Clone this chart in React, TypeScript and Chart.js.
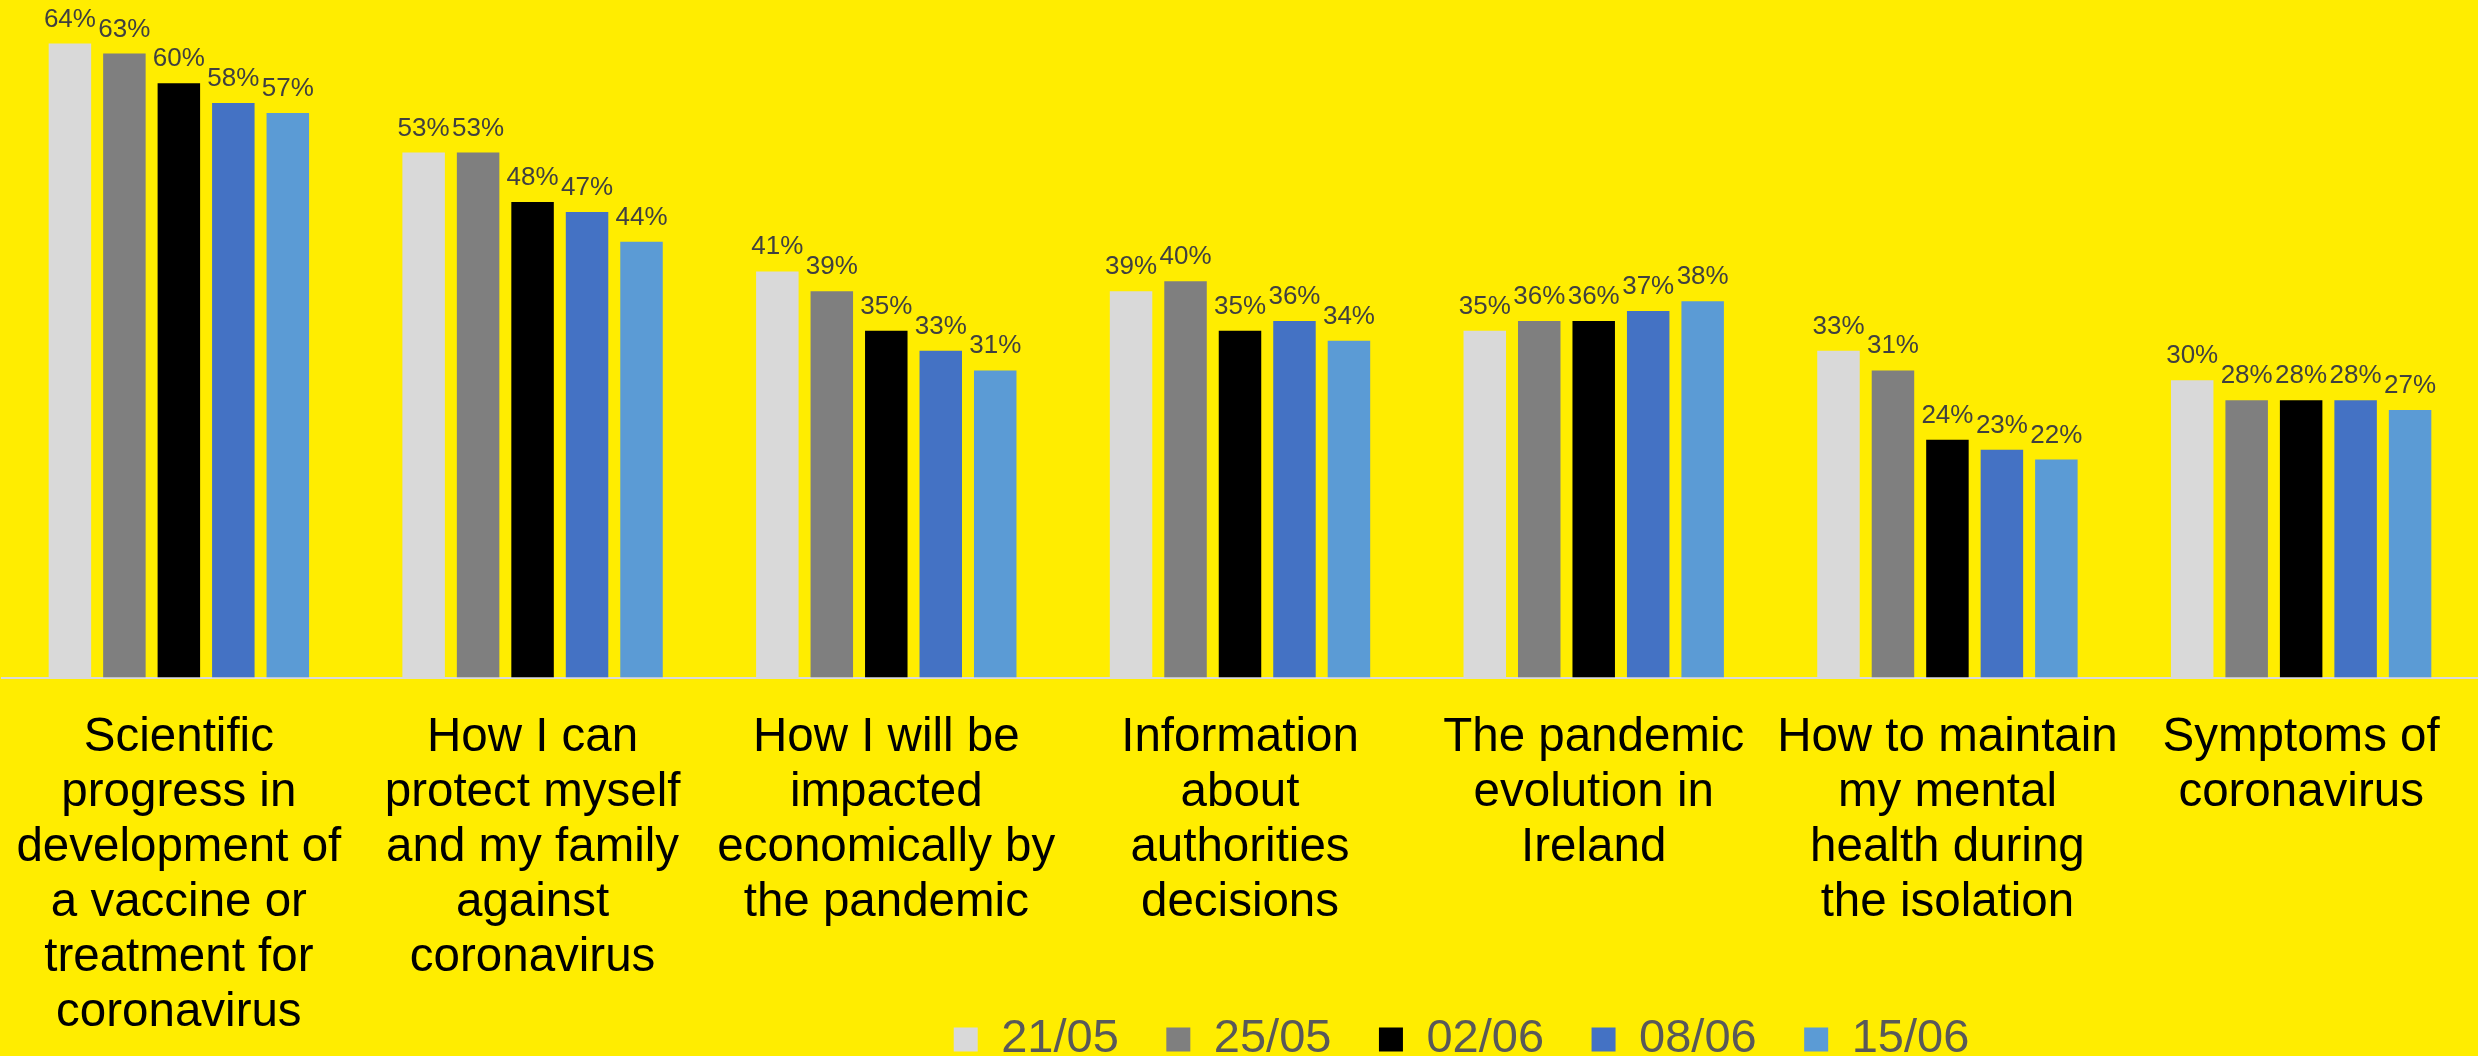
import React, { useEffect, useRef } from "react";
import { Chart, registerables } from "chart.js";

Chart.register(...registerables);

const FONT = "'Liberation Sans', Arial, sans-serif";

const categories: string[][] = [
  ["Scientific", "progress in", "development of", "a vaccine or", "treatment for", "coronavirus"],
  ["How I can", "protect myself", "and my family", "against", "coronavirus"],
  ["How I will be", "impacted", "economically by", "the pandemic"],
  ["Information", "about", "authorities", "decisions"],
  ["The pandemic", "evolution in", "Ireland"],
  ["How to maintain", "my mental", "health during", "the isolation"],
  ["Symptoms of", "coronavirus"],
];

const seriesLabels = ["21/05", "25/05", "02/06", "08/06", "15/06"];
const s2105 = [64, 53, 41, 39, 35, 33, 30];
const s2505 = [63, 53, 39, 40, 36, 31, 28];
const s0206 = [60, 48, 35, 35, 36, 24, 28];
const s0806 = [58, 47, 33, 36, 37, 23, 28];
const s1506 = [57, 44, 31, 34, 38, 22, 27];
const seriesValues = [s2105, s2505, s0206, s0806, s1506];
const seriesColors = ["#d9d9d9", "#7f7f7f", "#000000", "#4472c4", "#5b9bd5"];

const dataLabelPlugin = {
  id: "dataLabels",
  afterDatasetsDraw(chart: any) {
    const ctx = chart.ctx;
    ctx.save();
    ctx.font = `26px ${FONT}`;
    ctx.fillStyle = "#404040";
    ctx.textAlign = "center";
    ctx.textBaseline = "alphabetic";
    chart.data.datasets.forEach((ds: any, i: number) => {
      const meta = chart.getDatasetMeta(i);
      meta.data.forEach((el: any, j: number) => {
        ctx.fillText(`${ds.data[j]}%`, el.x, el.y - 17);
      });
    });
    ctx.restore();
  },
};

const layoutTweakPlugin = {
  id: "layoutTweak",
  afterLayout(chart: any) {
    const l = chart.legend;
    if (l) {
      l.left += 219.5;
      l.right += 219.5;
      l.top += 17;
      l.bottom += 17;
    }
    const x = chart.scales.x;
    if (x) x.bottom = chart.height;
  },
};

export default function App() {
  const ref = useRef<HTMLCanvasElement | null>(null);

  useEffect(() => {
    if (!ref.current) return;
    const chart = new Chart(ref.current, {
      type: "bar",
      data: {
        labels: categories,
        datasets: seriesLabels.map((label, i) => ({
          label,
          data: seriesValues[i],
          backgroundColor: seriesColors[i],
          borderWidth: 0,
          categoryPercentage: 0.77,
          barPercentage: 0.78,
        })),
      },
      options: {
        responsive: false,
        animation: false,
        layout: { padding: { top: 4, left: 2, right: -4, bottom: 0 } },
        plugins: {
          legend: {
            position: "bottom",
            labels: {
              boxWidth: 24,
              boxHeight: 24,
              padding: 47.5,
              color: "#595959",
              font: { size: 47, family: FONT },
            },
          },
          tooltip: { enabled: false },
        },
        scales: {
          x: {
            grid: { display: false, drawTicks: false },
            border: { display: true, color: "#d9d9d9", width: 2 },
            ticks: {
              color: "#000000",
              font: { size: 47.5, family: FONT, lineHeight: 55 / 47.5 },
              padding: 33,
              maxRotation: 0,
              minRotation: 0,
              autoSkip: false,
            },
            afterFit: (scale: any) => {
              scale.height = 274;
              scale.paddingLeft = 0;
              scale.paddingRight = -4;
            },
          },
          y: { display: false, min: 0, max: 68 },
        },
      },
      plugins: [dataLabelPlugin, layoutTweakPlugin],
    });
    return () => chart.destroy();
  }, []);

  return (
    <div
      style={{
        position: "absolute",
        left: 0,
        top: 0,
        width: 2478,
        height: 1056,
        background: "#ffed00",
      }}
    >
      <canvas ref={ref} width={2478} height={1056} style={{ display: "block" }} />
    </div>
  );
}
